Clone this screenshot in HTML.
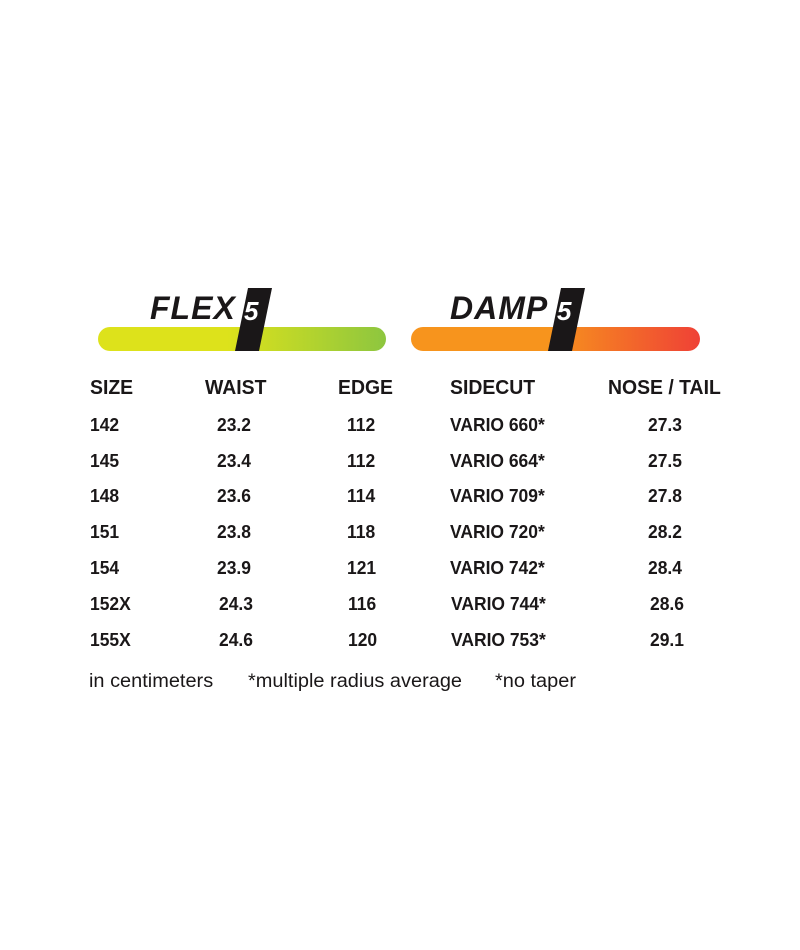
<!DOCTYPE html>
<html><head><style>
body{margin:0;width:800px;height:950px;background:#fff;position:relative;font-family:"Liberation Sans",sans-serif;color:#1a1718;overflow:hidden}
.t{position:absolute;white-space:nowrap;transform-origin:left center;transform:scaleX(0.97)}
.h{font-weight:bold;font-size:20px}
.d{font-size:18px;font-weight:bold}
.f{font-size:19px;transform:scaleX(1.05)}
.bar{position:absolute;height:24px;border-radius:12px;top:327px}
.big{position:absolute;font-weight:bold;font-style:italic;font-size:32px;top:290px;letter-spacing:1px}
</style></head><body>
<div class="bar" style="left:98px;width:288px;background:linear-gradient(90deg,#dde21b 0%,#dde21b 45%,#8dc63f 100%)"></div>
<div class="bar" style="left:411px;width:289px;background:linear-gradient(90deg,#f7941d 0%,#f7941d 48%,#ef4136 100%)"></div>
<svg style="position:absolute;left:0;top:0" width="800" height="400">
<polygon points="248,288 272,288 259,351 235,351" fill="#1a1718"/>
<polygon points="561,288 585,288 572,351 548,351" fill="#1a1718"/>
<text x="244" y="320" font-family="Liberation Sans" font-weight="bold" font-style="italic" font-size="26" fill="#fff">5</text>
<text x="557" y="320" font-family="Liberation Sans" font-weight="bold" font-style="italic" font-size="26" fill="#fff">5</text>
</svg>
<div class="big" style="left:150px">FLEX</div>
<div class="big" style="left:450px">DAMP</div>

<div class="t h" style="left:90px;top:377px">SIZE</div>
<div class="t h" style="left:205px;top:377px">WAIST</div>
<div class="t h" style="left:338px;top:377px">EDGE</div>
<div class="t h" style="left:450px;top:377px">SIDECUT</div>
<div class="t h" style="left:608px;top:377px">NOSE / TAIL</div>

<div class="t d" style="left:90px;top:415px">142</div><div class="t d" style="left:217px;top:415px">23.2</div><div class="t d" style="left:347px;top:415px">112</div><div class="t d" style="left:450px;top:415px">VARIO 660*</div><div class="t d" style="left:648px;top:415px">27.3</div>
<div class="t d" style="left:90px;top:451px">145</div><div class="t d" style="left:217px;top:451px">23.4</div><div class="t d" style="left:347px;top:451px">112</div><div class="t d" style="left:450px;top:451px">VARIO 664*</div><div class="t d" style="left:648px;top:451px">27.5</div>
<div class="t d" style="left:90px;top:486px">148</div><div class="t d" style="left:217px;top:486px">23.6</div><div class="t d" style="left:347px;top:486px">114</div><div class="t d" style="left:450px;top:486px">VARIO 709*</div><div class="t d" style="left:648px;top:486px">27.8</div>
<div class="t d" style="left:90px;top:522px">151</div><div class="t d" style="left:217px;top:522px">23.8</div><div class="t d" style="left:347px;top:522px">118</div><div class="t d" style="left:450px;top:522px">VARIO 720*</div><div class="t d" style="left:648px;top:522px">28.2</div>
<div class="t d" style="left:90px;top:558px">154</div><div class="t d" style="left:217px;top:558px">23.9</div><div class="t d" style="left:347px;top:558px">121</div><div class="t d" style="left:450px;top:558px">VARIO 742*</div><div class="t d" style="left:648px;top:558px">28.4</div>
<div class="t d" style="left:90px;top:594px">152X</div><div class="t d" style="left:219px;top:594px">24.3</div><div class="t d" style="left:348px;top:594px">116</div><div class="t d" style="left:451px;top:594px">VARIO 744*</div><div class="t d" style="left:650px;top:594px">28.6</div>
<div class="t d" style="left:90px;top:630px">155X</div><div class="t d" style="left:219px;top:630px">24.6</div><div class="t d" style="left:348px;top:630px">120</div><div class="t d" style="left:451px;top:630px">VARIO 753*</div><div class="t d" style="left:650px;top:630px">29.1</div>

<div class="t f" style="left:89px;top:671px">in centimeters</div>
<div class="t f" style="left:248px;top:671px">*multiple radius average</div>
<div class="t f" style="left:495px;top:671px">*no taper</div>
</body></html>
